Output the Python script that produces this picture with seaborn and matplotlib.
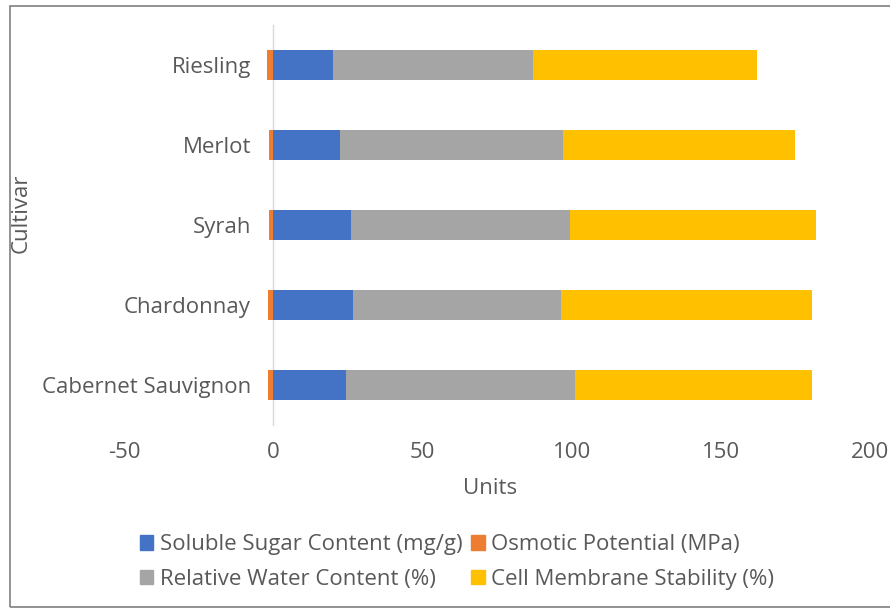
import matplotlib
matplotlib.use("Agg")
import matplotlib.pyplot as plt
import seaborn as sns
import pandas as pd
from matplotlib.patches import Patch, Rectangle

cultivars = ["Riesling", "Merlot", "Syrah", "Chardonnay", "Cabernet Sauvignon"]
soluble_sugar = [20.0, 22.5, 26.0, 26.8, 24.5]
osmotic_potential = [-2.0, -1.5, -1.3, -1.6, -1.9]
relative_water = [67.0, 74.5, 73.5, 69.7, 76.5]
membrane_stability = [75.0, 78.0, 82.5, 84.0, 79.6]
x_ticks = [-50, 0, 50, 100, 150, 200]

series_names = ["Soluble Sugar Content (mg/g)", "Osmotic Potential (MPa)",
                "Relative Water Content (%)", "Cell Membrane Stability (%)"]
colors = {"sugar": "#4472C4", "osmotic": "#ED7D31", "water": "#A5A5A5", "membrane": "#FFC000"}
text_color = "#595959"

sns.set_theme(style="white")
plt.rcParams["font.family"] = ["Open Sans", "DejaVu Sans"]
FS = 16

df = pd.DataFrame({
    "Cultivar": cultivars,
    "sugar": soluble_sugar,
    "osmotic": osmotic_potential,
    "water": relative_water,
    "membrane": membrane_stability,
})
# cumulative ends of the positive stack; the negative series stacks left of zero
df["sugar_water"] = df["sugar"] + df["water"]
df["total"] = df["sugar_water"] + df["membrane"]

fig = plt.figure(figsize=(8.9, 6.09), dpi=100)
ax = fig.add_axes([124 / 890, 1 - 425 / 609, 746 / 890, 400 / 609])

layers = [("total", colors["membrane"]), ("sugar_water", colors["water"]),
          ("sugar", colors["sugar"]), ("osmotic", colors["osmotic"])]
for col, color in layers:
    sns.barplot(data=df, x=col, y="Cultivar", order=cultivars, color=color,
                width=0.38, saturation=1, errorbar=None, linewidth=0, ax=ax)

ax.set_xlim(-50, 200)
ax.set_xticks(x_ticks)
ax.set_xticklabels([str(t) for t in x_ticks])
for side in ("top", "right", "bottom"):
    ax.spines[side].set_visible(False)
ax.spines["left"].set_position(("data", 0))
ax.spines["left"].set_color("#D9D9D9")
ax.spines["left"].set_linewidth(1.0)
ax.spines["left"].set_zorder(0.5)
ax.tick_params(axis="both", length=0, labelsize=FS, labelcolor=text_color)
ax.tick_params(axis="y", pad=16)
ax.tick_params(axis="x", pad=12)

ax.set_xlabel("Units", fontsize=FS, color=text_color)
ax.set_ylabel("Cultivar", fontsize=FS, color=text_color)
ax.xaxis.set_label_coords((490 - 124) / 746, (425 - 488) / 400)
ax.yaxis.set_label_coords(-(124 - 21) / 746, (425 - 213) / 400)
ax.xaxis.label.set_va("center")
ax.yaxis.label.set_va("center")

handles = [Patch(color=colors["sugar"], label=series_names[0]),
           Patch(color=colors["water"], label=series_names[2]),
           Patch(color=colors["osmotic"], label=series_names[1]),
           Patch(color=colors["membrane"], label=series_names[3])]
leg = fig.legend(handles=handles, ncol=2, loc="center", bbox_to_anchor=(457 / 890, 1 - 562 / 609),
                 frameon=False, fontsize=FS, handlelength=0.6, handleheight=0.6,
                 handletextpad=0.3, columnspacing=0.4, labelspacing=0.6, labelcolor=text_color)

fig.patches.append(Rectangle((9.5 / 890, 2 / 609), 1.0, 1 - 7.5 / 609,
                             transform=fig.transFigure, fill=False,
                             edgecolor="#7F7F7F", linewidth=1.2))

fig.savefig("out.png", dpi=100)
